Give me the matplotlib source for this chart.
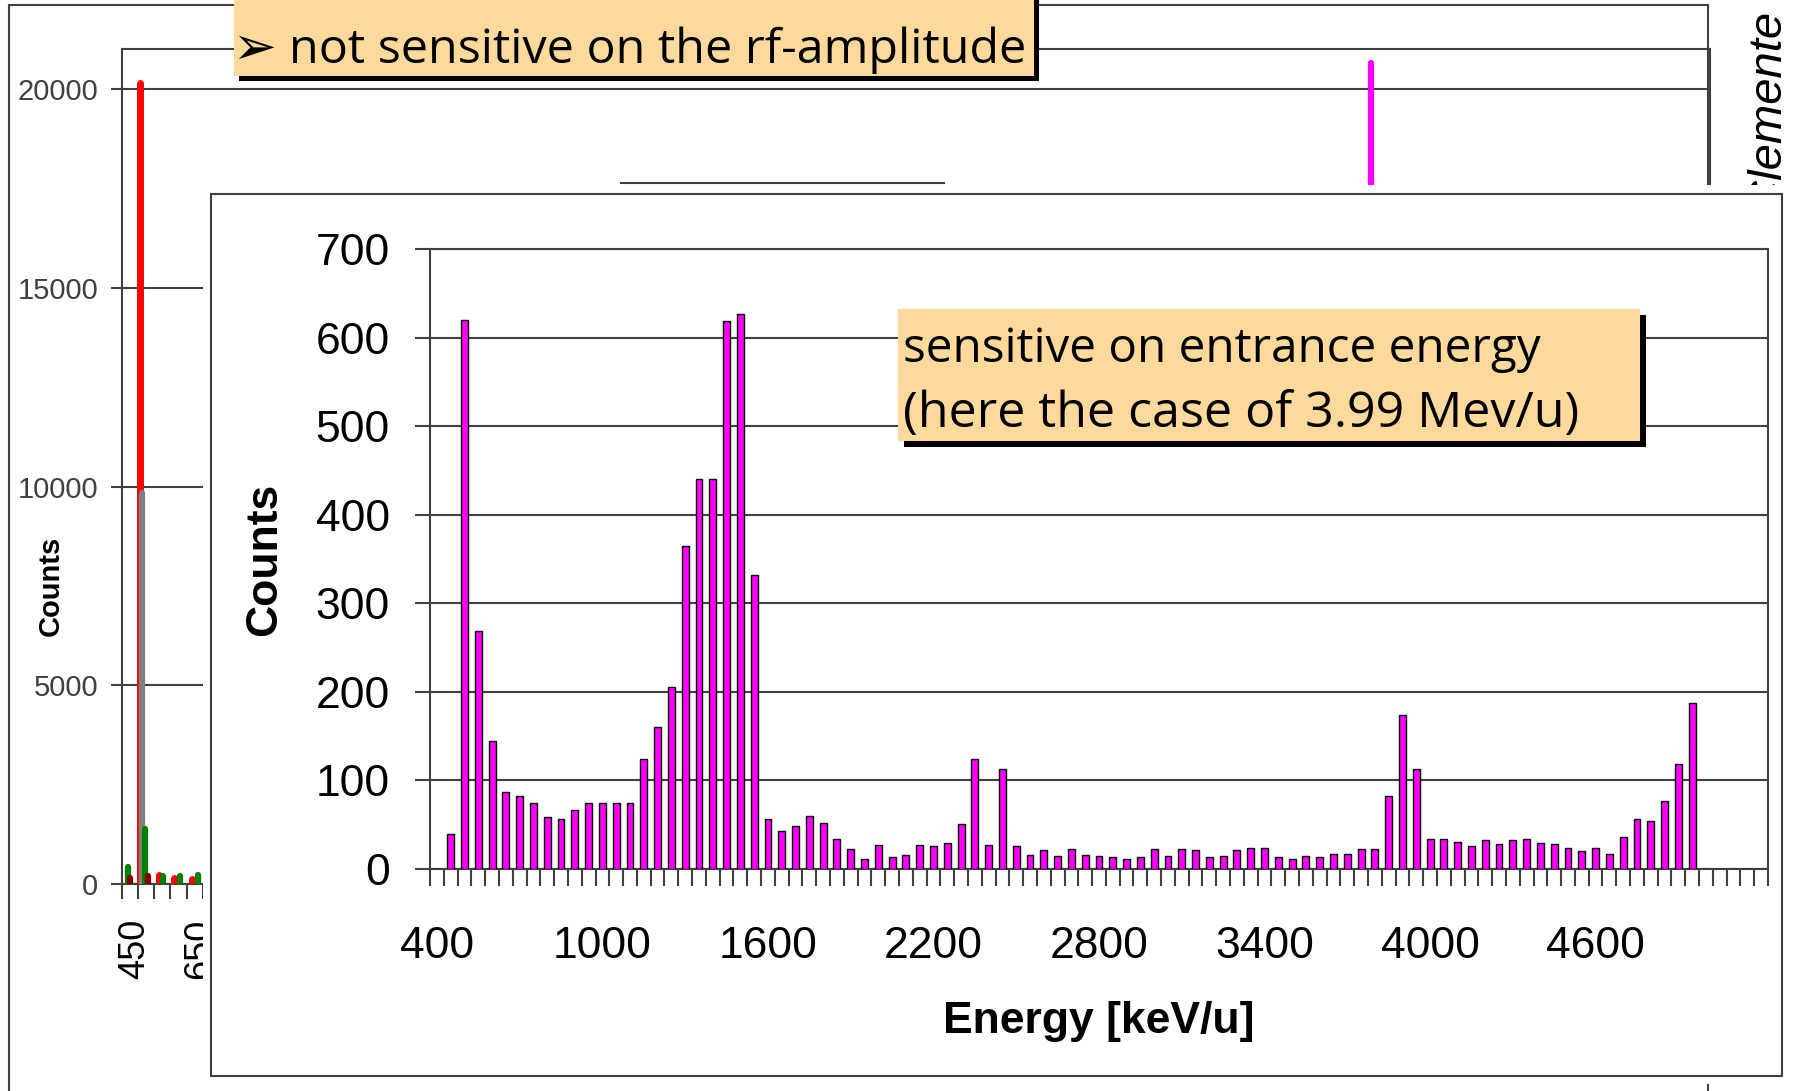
import numpy as np
import matplotlib
matplotlib.use('Agg')
import matplotlib.pyplot as plt
from matplotlib.patches import Rectangle
from matplotlib.lines import Line2D
from matplotlib.transforms import ScaledTranslation

plt.rcParams['font.family'] = ['Liberation Sans', 'DejaVu Sans']

W, H = 1801, 1091

# Inset histogram: 50 keV/u wide energy bins starting at 400 keV/u
energy_bins = np.arange(400, 5250, 50)
counts = [0, 39, 620, 269, 144, 87, 82, 74, 59, 56,
          67, 74, 75, 74, 75, 124, 160, 206, 365, 440,
          440, 619, 627, 332, 56, 43, 48, 60, 52, 34,
          23, 11, 27, 13, 16, 27, 26, 29, 51, 124,
          27, 113, 26, 16, 21, 15, 23, 16, 15, 13,
          11, 13, 23, 15, 23, 21, 13, 15, 21, 24,
          24, 13, 11, 15, 13, 17, 17, 23, 23, 82,
          174, 113, 34, 34, 31, 26, 33, 28, 33, 34,
          29, 28, 24, 20, 24, 17, 36, 56, 54, 77,
          118, 187, 0, 0, 0, 0, 0]
xtick_labels = ['400', '1000', '1600', '2200', '2800', '3400', '4000', '4600']
yticks_inset = [0, 100, 200, 300, 400, 500, 600, 700]

# Background chart (mostly hidden behind the inset)
back_red_e = [482, 540, 585, 641]
back_red_n = [20150, 236, 159, 115]
back_gray_e = [488]
back_gray_n = [9840]
back_green_e = [444, 497, 551, 604, 659]
back_green_n = [430, 1394, 209, 193, 236]
back_maroon_e = [451, 506]
back_maroon_n = [140, 209]
back_magenta_e = [4269]
back_magenta_n = [20660]
yticks_back = [0, 5000, 10000, 15000, 20000]
xticks_back = [450, 650]

frame_c = '#404040'
box_c = '#FDD99B'


def box(x0, y0, x1, y1):
    # pixel box (top-left origin) -> figure fraction rect
    return [x0 / W, 1 - y1 / H, (x1 - x0) / W, (y1 - y0) / H]


def fpt(x, y):
    return x / W, 1 - y / H


def fig_line(xs, ys, **kw):
    fig.add_artist(Line2D([x / W for x in xs], [1 - y / H for y in ys],
                          transform=fig.transFigure, **kw))


def fig_rect(x0, y0, x1, y1, **kw):
    fig.add_artist(Rectangle((x0 / W, 1 - y1 / H), (x1 - x0) / W, (y1 - y0) / H,
                             transform=fig.transFigure, **kw))


fig = plt.figure(figsize=(W / 100, H / 100), dpi=100)

# ---- back chart ----
bk = fig.add_axes(box(121.7, 49, 1710, 884), zorder=0)
bk.vlines(back_red_e, 0, back_red_n, colors='#ff0000', linewidth=5, capstyle='round', zorder=3)
bk.vlines(back_gray_e, 0, back_gray_n, colors='#808080', linewidth=4.5, capstyle='round', zorder=3)
bk.vlines(back_green_e, 0, back_green_n, colors='#008000', linewidth=4.5, capstyle='round', zorder=3)
bk.vlines(back_maroon_e, 0, back_maroon_n, colors='#800000', linewidth=4.5, capstyle='round', zorder=3)
bk.vlines(back_magenta_e, 0, back_magenta_n, colors='#ff00ff', linewidth=4.5, capstyle='round', zorder=3)
bk.set_xlim(425, 5312)
bk.set_ylim(0, 21011)
bk.set_yticks(yticks_back)
bk.set_yticklabels([str(v) for v in yticks_back])
bk.yaxis.grid(True, color=frame_c, linewidth=1.5)
bk.set_axisbelow(True)
bk.tick_params(axis='y', direction='out', length=8, width=1.5, color=frame_c,
               pad=9, labelsize=21, labelcolor='#404040')
bk.set_xticks(xticks_back)
bk.set_xticklabels([str(v) for v in xticks_back], rotation=90, fontsize=26)
bk.set_xticks(np.arange(425, 5312, 50), minor=True)
bk.tick_params(axis='x', which='major', length=0, pad=25)
bk.tick_params(axis='x', which='minor', direction='out', length=11, width=1.5, color=frame_c)
shift = ScaledTranslation(5 / 100, 0, fig.dpi_scale_trans)
for lab in bk.get_xticklabels():
    lab.set_transform(lab.get_transform() + shift)
for s in bk.spines.values():
    s.set_color(frame_c)
    s.set_linewidth(1.5)
fig.text(*fpt(51, 586), 'Counts', rotation=90, ha='center', va='center',
         fontsize=21, fontweight='bold', zorder=0.5)

# outer frame of the back slide chart
fig_line([9, 9], [5, 1095], color=frame_c, lw=1.5, zorder=0.5)
fig_line([9, 1708], [5, 5], color=frame_c, lw=1.5, zorder=0.5)
fig_line([1708, 1708], [5, 1095], color=frame_c, lw=1.5, zorder=0.5)
fig_line([621, 944], [183, 183], color=frame_c, lw=1.5, zorder=0.5)
fig.text(*fpt(1770, 12), 'G. Clemente', rotation=90, ha='center', va='top',
         fontsize=34, style='italic', zorder=0.5)

# white cover of the inset picture and its frame
fig_rect(203, 185, 1810, 1084, facecolor='white', edgecolor='none', zorder=1)
fig_rect(211, 194, 1782, 1076, facecolor='none', edgecolor=frame_c, lw=1.5, zorder=1.5)

# ---- inset histogram ----
ax = fig.add_axes(box(430, 249, 1768, 869), zorder=2)
idx = np.arange(len(energy_bins))
ax.bar(idx, counts, width=0.5, color='#ff00ff', edgecolor='black', linewidth=1.0, zorder=3)
ax.set_xlim(-0.5, len(energy_bins) - 0.5)
ax.set_ylim(0, 700)
ax.set_yticks(yticks_inset)
ax.set_yticklabels([str(v) for v in yticks_inset])
ax.yaxis.grid(True, color=frame_c, linewidth=1.5)
ax.set_axisbelow(True)
ax.set_xticks(idx[::12][:len(xtick_labels)])
ax.set_xticklabels(xtick_labels)
ax.set_xticks(np.arange(-0.5, len(energy_bins)), minor=True)
ax.tick_params(axis='x', which='major', length=0, pad=41, labelsize=32)
ax.tick_params(axis='x', which='minor', direction='out', length=12, width=1.5, color=frame_c)
ax.tick_params(axis='y', direction='out', length=11, width=1.5, color=frame_c,
               pad=18, labelsize=32)
for s in ax.spines.values():
    s.set_color(frame_c)
    s.set_linewidth(1.5)
fig.text(*fpt(265, 559), 'Counts', rotation=90, ha='center', va='center',
         fontsize=32, fontweight='bold', zorder=4)
fig.text(*fpt(1099, 1021), 'Energy [keV/u]', ha='center', va='center',
         fontsize=32, fontweight='bold', zorder=4)

# ---- callout boxes ----
fig_rect(239, -5, 1039, 81, facecolor='black', edgecolor='none', zorder=3)
fig_rect(234, -10, 1034, 76, facecolor=box_c, edgecolor='none', zorder=3.1)
arrow = fig.text(*fpt(232, 64), '\u27A2', fontsize=30, family='DejaVu Sans',
                 va='baseline', zorder=4)
top_txt = fig.text(*fpt(289, 63), 'not sensitive on the rf-amplitude', fontsize=30,
                   family=['Open Sans', 'DejaVu Sans'], va='baseline', zorder=4)

fig_rect(904, 315, 1646, 447, facecolor='black', edgecolor='none', zorder=3)
fig_rect(898, 309, 1640, 441, facecolor=box_c, edgecolor='none', zorder=3.1)
line1 = fig.text(*fpt(903, 362), 'sensitive on entrance energy', fontsize=30,
                 family=['Open Sans', 'DejaVu Sans'], va='baseline', zorder=4)
line2 = fig.text(*fpt(903, 427), '(here the case of 3.99 Mev/u)', fontsize=30,
                 family=['Open Sans', 'DejaVu Sans'], va='baseline', zorder=4)


def fit(t, width_px):
    r = fig.canvas.get_renderer()
    w = t.get_window_extent(r).width
    t.set_fontsize(t.get_fontsize() * width_px / w)


fit(arrow, 44)
fit(top_txt, 737)
fit(line1, 638)
fit(line2, 677)

fig.savefig('out.png', dpi=100)
